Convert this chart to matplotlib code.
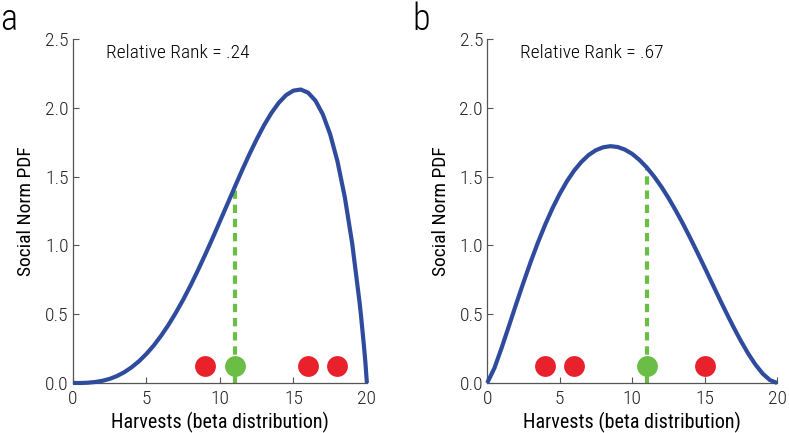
import matplotlib
matplotlib.use("Agg")
import matplotlib.pyplot as plt

plt.rcParams["font.family"] = ["Liberation Sans Narrow", "Roboto Condensed", "DejaVu Sans"]
plt.rcParams["font.stretch"] = "condensed"
plt.rcParams["font.weight"] = "light"

# =========================
# Data
# =========================

# panel a: social norm PDF, peak near 15
harvest_a = [0.0, 0.5, 1.0, 1.5, 2.0, 2.5, 3.0, 3.5, 4.0, 4.5, 5.0, 5.5, 6.0, 6.5,
             7.0, 7.5, 8.0, 8.5, 9.0, 9.5, 10.0, 10.5, 11.0, 11.5, 12.0, 12.5,
             13.0, 13.5, 14.0, 14.5, 15.0, 15.5, 16.0, 16.5, 17.0, 17.5, 18.0,
             18.5, 19.0, 19.5, 19.6, 19.8, 19.9, 20.0]
pdf_a = [0.000, 0.000, 0.002, 0.007, 0.016, 0.030, 0.051, 0.079, 0.115, 0.159,
         0.212, 0.273, 0.344, 0.423, 0.511, 0.606, 0.709, 0.819, 0.934, 1.053,
         1.176, 1.299, 1.423, 1.545, 1.662, 1.772, 1.874, 1.963, 2.037, 2.093,
         2.126, 2.134, 2.111, 2.053, 1.954, 1.809, 1.611, 1.350, 1.015, 0.588,
         0.489, 0.270, 0.147, 0.000]

# panel b: social norm PDF, peak near 8.5
harvest_b = [i * 0.5 for i in range(41)]
pdf_b = [0.000, 0.109, 0.257, 0.415, 0.575, 0.731, 0.881, 1.022, 1.152, 1.270,
         1.375, 1.467, 1.545, 1.608, 1.658, 1.693, 1.714, 1.722, 1.716, 1.697,
         1.666, 1.622, 1.568, 1.503, 1.429, 1.346, 1.255, 1.158, 1.055, 0.948,
         0.839, 0.728, 0.617, 0.509, 0.404, 0.305, 0.214, 0.134, 0.068, 0.021,
         0.000]

others_a = [9, 16, 18]
own_a = 11
own_pdf_a = 1.423

others_b = [4, 6, 15]
own_b = 11
own_pdf_b = 1.568

rank_labels = ["Relative Rank = .24", "Relative Rank = .67"]
panel_letters = ["a", "b"]
dot_y = 0.12

# =========================
# Styles
# =========================

CURVE_COLOR = "#2f4b9d"
OTHER_COLOR = "#e8212a"
OWN_COLOR = "#6abd45"
SPINE_COLOR = "#555555"


def draw_panel(ax, xs, ys, others, own, own_pdf, rank_label):
    ax.plot(xs, ys, color=CURVE_COLOR, lw=3.0, clip_on=False, zorder=3,
            solid_capstyle="butt", solid_joinstyle="round")
    ax.plot([own, own], [0, own_pdf], color=OWN_COLOR, lw=3.0,
            dashes=(2.0, 1.4), zorder=2, clip_on=False)
    ax.plot(others, [dot_y] * len(others), "o", color=OTHER_COLOR,
            markersize=15, markeredgewidth=0, zorder=4)
    ax.plot([own], [dot_y], "o", color=OWN_COLOR,
            markersize=15, markeredgewidth=0, zorder=4)

    ax.text(2.25, 2.36, rank_label, fontsize=14, va="baseline", ha="left")

    ax.set_xlim(0, 20)
    ax.set_ylim(0, 2.5)
    ax.set_xticks([0, 5, 10, 15, 20])
    ax.set_yticks([0, 0.5, 1.0, 1.5, 2.0, 2.5])
    ax.set_yticklabels(["0.0", "0.5", "1.0", "1.5", "2.0", "2.5"])
    ax.tick_params(direction="in", length=4, width=0.8, labelsize=14,
                   colors=SPINE_COLOR, labelcolor="#222222")
    ax.tick_params(axis="x", pad=5)
    ax.tick_params(axis="y", pad=3)
    ax.spines["top"].set_visible(False)
    ax.spines["right"].set_visible(False)
    for side in ["left", "bottom"]:
        ax.spines[side].set_color(SPINE_COLOR)
        ax.spines[side].set_linewidth(0.9)

    ax.set_xlabel("Harvests (beta distribution)", fontsize=14.5, labelpad=3)
    ax.set_ylabel("Social Norm PDF", fontsize=14, labelpad=7)


fig = plt.figure(figsize=(7.89, 4.33), dpi=100)
ax_a = fig.add_axes([0.0925, 0.1155, 0.3725, 0.794])
ax_b = fig.add_axes([0.6175, 0.1155, 0.3675, 0.794])

draw_panel(ax_a, harvest_a, pdf_a, others_a, own_a, own_pdf_a, rank_labels[0])
draw_panel(ax_b, harvest_b, pdf_b, others_b, own_b, own_pdf_b, rank_labels[1])

fig.text(0.0, 0.93, panel_letters[0], fontsize=26, ha="left", va="baseline")
fig.text(0.523, 0.93, panel_letters[1], fontsize=26, ha="left", va="baseline")

fig.savefig("out.png", dpi=100)
